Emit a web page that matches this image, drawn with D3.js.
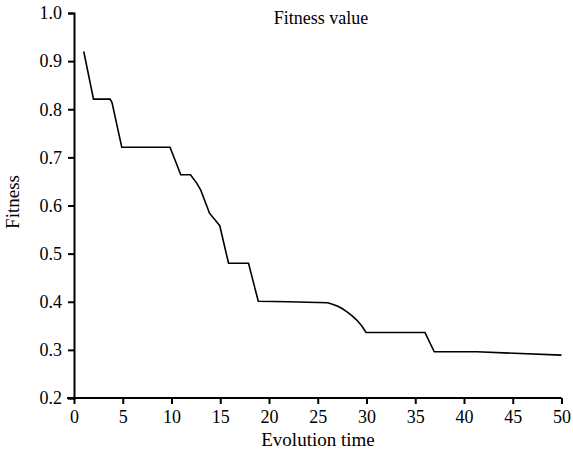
<!DOCTYPE html>
<html>
<head>
<meta charset="utf-8">
<script src="https://cdn.jsdelivr.net/npm/d3@7"></script>
<style>
  body { margin: 0; background: #fff; }
  .c-axis path, .c-axis line { stroke: #000; stroke-width: 2; }
  .c-line path { fill: none; stroke: #000; stroke-width: 1.6; }
</style>
</head>
<body>
<div id="fitnessChart"></div>
<script>
// values
const evolutionTime = [1, 2, 3, 3.7, 3.9, 4.9, 7, 9.85, 10.95, 11.95, 12.6, 13, 13.9, 14.95, 15.85, 17.9,
  18.9, 22, 26, 26.5, 27, 27.5, 28, 28.5, 29, 29.5, 29.95, 33, 36, 36.95, 41.3, 50];
const fitness = [0.92, 0.821, 0.821, 0.821, 0.814, 0.721, 0.721, 0.721, 0.664, 0.664, 0.646, 0.632, 0.584, 0.558, 0.48, 0.48,
  0.401, 0.4, 0.398, 0.395, 0.391, 0.386, 0.379, 0.371, 0.362, 0.35, 0.336, 0.336, 0.336, 0.296, 0.296, 0.289];
const xTicks = [0, 5, 10, 15, 20, 25, 30, 35, 40, 45, 50];
const yTicks = [0.2, 0.3, 0.4, 0.5, 0.6, 0.7, 0.8, 0.9, 1.0];

const serif = '"Liberation Serif", "Times New Roman", "DejaVu Serif", serif';

class FitnessChart {
  constructor() {
    this.chartContainer = d3.select('#fitnessChart');
    this.chartWidth = 573;
    this.chartHeight = 459;
    this.left = 74;
    this.right = 561.5;
    this.top = 13;
    this.bottom = 398;
  }

  render() {
    this.createSvg();
    this.initScales();
    this.drawAxes();
    this.drawLine();
    this.drawLabels();
  }

  createSvg() {
    this.chart = this.chartContainer
      .append('svg')
      .attr('width', this.chartWidth)
      .attr('height', this.chartHeight);
  }

  initScales() {
    this.timeScale = d3.scaleLinear().domain([0, 50]).range([this.left, this.right]);
    this.fitnessScale = d3.scaleLinear().domain([0.2, 1.0]).range([this.bottom, this.top]);
  }

  drawAxes() {
    let timeAxis = d3.axisBottom(this.timeScale)
      .tickValues(xTicks).tickSizeOuter(0).tickSize(6).tickPadding(6);
    let fitnessAxis = d3.axisLeft(this.fitnessScale)
      .tickValues(yTicks).tickFormat(d3.format('.1f')).tickSizeOuter(0).tickSize(6).tickPadding(6);

    let gx = this.chart.append('g')
      .attr('class', 'c-axis')
      .attr('transform', 'translate(0, ' + this.bottom + ')')
      .call(timeAxis)
      .attr('font-family', serif)
      .attr('font-size', 18);
    gx.select('.domain').attr('d', 'M' + (this.left - 7) + ',0H' + this.right);

    this.chart.append('g')
      .attr('class', 'c-axis')
      .attr('transform', 'translate(' + this.left + ', 0)')
      .call(fitnessAxis)
      .attr('font-family', serif)
      .attr('font-size', 18);
  }

  drawLine() {
    let points = evolutionTime.map((t, i) => ({ t: t, f: fitness[i] }));
    let line = d3.line()
      .x((d) => this.timeScale(d.t))
      .y((d) => this.fitnessScale(d.f));

    this.chart.append('g')
      .attr('class', 'c-line')
      .append('path')
      .attr('d', line(points));
  }

  drawLabels() {
    this.chart.append('text')
      .attr('x', 321).attr('y', 24)
      .attr('text-anchor', 'middle')
      .attr('font-family', serif)
      .attr('font-size', 18)
      .text('Fitness value');

    this.chart.append('text')
      .attr('x', 318).attr('y', 446)
      .attr('text-anchor', 'middle')
      .attr('font-family', serif)
      .attr('font-size', 19)
      .text('Evolution time');

    this.chart.append('text')
      .attr('transform', 'translate(19, 202) rotate(-90)')
      .attr('text-anchor', 'middle')
      .attr('font-family', serif)
      .attr('font-size', 19)
      .text('Fitness');
  }
}

new FitnessChart().render();
</script>
</body>
</html>
